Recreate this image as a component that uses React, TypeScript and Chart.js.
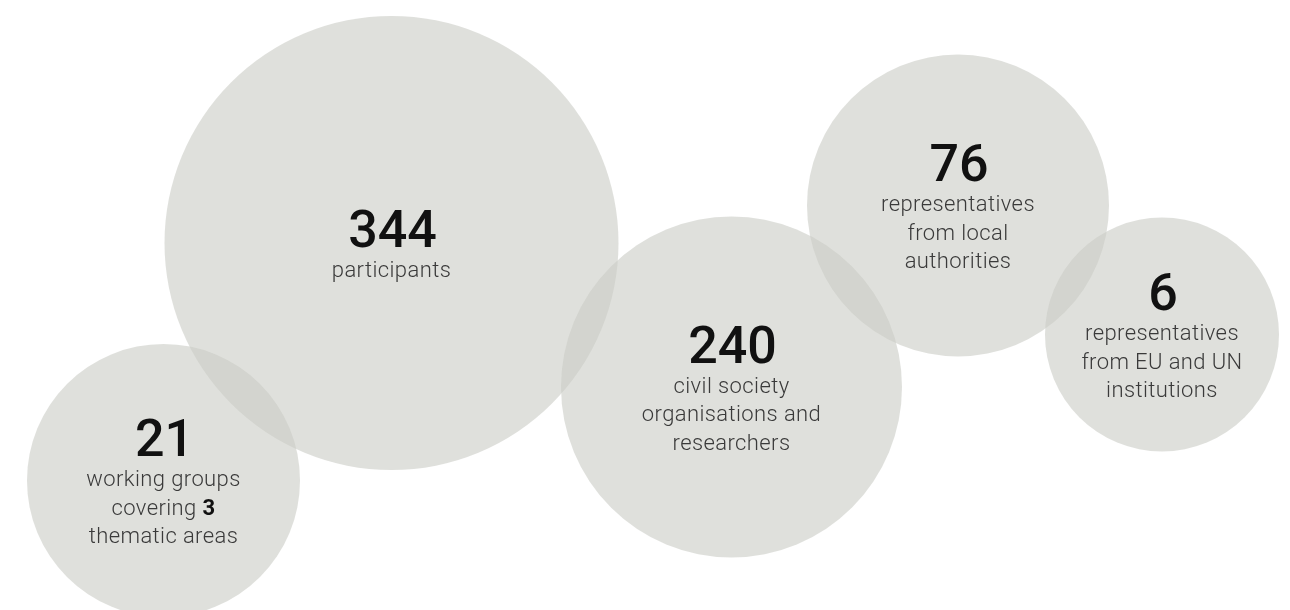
import React, { useEffect, useRef } from "react";
import { Chart, registerables } from "chart.js";

Chart.register(...registerables);

// ---- data ----
const values = [344, 21, 240, 76, 6];
const descriptions: string[][] = [
  ["participants"],
  ["working groups", "covering **3**", "thematic areas"],
  ["civil society", "organisations and", "researchers"],
  ["representatives", "from local", "authorities"],
  ["representatives", "from EU and UN", "institutions"],
];
// bubble centre positions (layout units = page pixels) and bubble radii
const xPos = [391.5, 163.5, 731.5, 958, 1162];
const yPos = [243, 480.5, 387, 205.5, 334.5];
const radii = [227, 136.5, 170.5, 151, 117];

const WIDTH = 1290;
const HEIGHT = 610;

const FILL = "rgba(203,205,197,0.61)";
const NUM_FONT = '500 52px Roboto, "Noto Sans", sans-serif';
const TXT_FONT = '300 22px Roboto, "Noto Sans", sans-serif';
const TXT_BOLD = '700 22px Roboto, "Noto Sans", sans-serif';
const LINE_H = 28.5;

type Seg = { text: string; bold: boolean };
function parseLine(line: string): Seg[] {
  const parts = line.split("**");
  return parts
    .map((t, i) => ({ text: t, bold: i % 2 === 1 }))
    .filter((s) => s.text.length > 0);
}

const labelPlugin = {
  id: "bubbleLabels",
  afterDatasetsDraw(chart: any) {
    const ctx: CanvasRenderingContext2D = chart.ctx;
    const meta = chart.getDatasetMeta(0);
    ctx.save();
    meta.data.forEach((el: any, i: number) => {
      const cx = el.x;
      const cy = el.y;
      const lines = descriptions[i];
      const n = lines.length;
      const numBase = cy + 4 - 14.25 * (n - 1);
      ctx.textAlign = "center";
      ctx.textBaseline = "alphabetic";
      ctx.fillStyle = "#111111";
      ctx.font = NUM_FONT;
      (ctx as any).letterSpacing = "0px";
      ctx.fillText(String(values[i]), cx + 1, numBase);

      lines.forEach((line, li) => {
        const base = numBase + 30 + li * LINE_H;
        const segs = parseLine(line);
        (ctx as any).letterSpacing = "0.4px";
        let total = 0;
        const widths = segs.map((s) => {
          ctx.font = s.bold ? TXT_BOLD : TXT_FONT;
          const w = ctx.measureText(s.text).width;
          total += w;
          return w;
        });
        let x = cx - total / 2;
        ctx.textAlign = "left";
        segs.forEach((s, si) => {
          ctx.font = s.bold ? TXT_BOLD : TXT_FONT;
          ctx.fillStyle = s.bold ? "#111111" : "#3a3a3a";
          ctx.fillText(s.text, x, base);
          x += widths[si];
        });
      });
    });
    ctx.restore();
  },
};

export default function App() {
  const ref = useRef<HTMLCanvasElement | null>(null);
  useEffect(() => {
    if (!ref.current) return;
    const chart = new Chart(ref.current, {
      type: "bubble",
      data: {
        datasets: [
          {
            data: values.map((v, i) => ({ x: xPos[i], y: yPos[i], r: radii[i] })),
            backgroundColor: FILL,
            borderWidth: 0,
            hoverBorderWidth: 0,
            hoverRadius: 0,
          } as any,
        ],
      },
      options: {
        animation: false,
        responsive: false,
        events: [],
        layout: { padding: 0, autoPadding: false } as any,
        clip: false as any,
        plugins: {
          legend: { display: false },
          tooltip: { enabled: false },
        },
        scales: {
          x: { type: "linear", min: 0, max: WIDTH, display: false },
          y: { type: "linear", min: 0, max: HEIGHT, reverse: true, display: false },
        },
      },
      plugins: [labelPlugin],
    });
    return () => chart.destroy();
  }, []);
  return (
    <div style={{ position: "fixed", left: 0, top: 0, width: WIDTH, height: HEIGHT, background: "#ffffff" }}>
      <canvas ref={ref} width={WIDTH} height={HEIGHT} style={{ display: "block" }} />
    </div>
  );
}
